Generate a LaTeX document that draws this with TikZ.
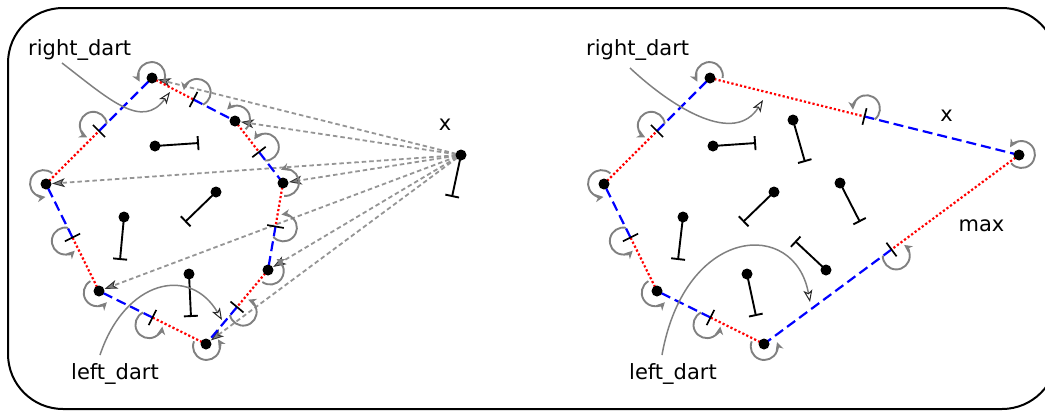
\documentclass[tikz,border=0pt]{standalone}
\usepackage{fontspec}
\setmainfont{DejaVu Sans}
\usetikzlibrary{calc,arrows.meta}

\definecolor{raygray}{HTML}{959595}
\definecolor{loopgray}{HTML}{808080}

\tikzset{
  vdot/.style={circle,fill=black,inner sep=0pt,minimum size=11pt},
  reddart/.style={red,line width=2.2pt,dash pattern=on 2.2pt off 2.2pt},
  bluedart/.style={blue,line width=2.2pt,dash pattern=on 10pt off 5pt},
  tickmark/.style={black,line width=1.7pt},
  loopline/.style={loopgray,line width=1.9pt,-{Stealth[length=8pt,width=8pt,inset=2.5pt]}},
  xray/.style={raygray,line width=1.8pt,dash pattern=on 4.5pt off 3pt,shorten <=5pt,shorten >=6pt,
    -{Stealth[length=13pt,width=9pt,inset=3.5pt,fill=loopgray,color=black!80,line width=0.9pt]}},
  dartline/.style={black,line width=1.9pt,-{Bar[width=14pt]}},
  lbl/.style={font=\fontsize{21pt}{25pt}\selectfont,inner sep=0pt},
  pointer/.style={loopgray,line width=1.5pt,-{Stealth[open,length=12pt,width=9pt,inset=3pt,color=black!85,line width=1pt]}},
}

% loop around a vertex: #1 vertex, #2 neighbour along the red dart, #3 neighbour along the blue dart
\newcommand\vertexloop[3]{%
  \draw[loopline] let \p1=($(#2)-(#1)$), \p2=($(#3)-(#1)$),
    \n1={atan2(\y1,\x1)}, \n2={atan2(\y2,\x2)},
    \n3={(\n2<\n1) ? (\n2+360) : \n2},
    \n4={(\n1+\n3)/2}
  in ($(#1)+({\n4}:2.5pt)+({\n1+4}:13.5pt)$) arc[start angle=\n1+4, end angle=\n3-18, radius=13.5pt];
}
% loop around the middle of an edge: #1 middle point, #2 end of the blue dart
\newcommand\tickloop[2]{%
  \draw[loopline] let \p1=($(#2)-(#1)$), \n1={atan2(\y1,\x1)}
  in ($(#1)+({\n1+90}:8pt)+({\n1-38}:13.5pt)$) arc[start angle=\n1-38, end angle=\n1+198, radius=13.5pt];
}
% an edge split in a red and a blue dart: #1 start, #2 end, #3 name of the middle point
\newcommand\splitedge[3]{%
  \coordinate (#3) at ($(#1)!0.5!(#2)$);
  \draw[reddart] (#1) -- (#3);
  \draw[bluedart] (#3) -- (#2);
  \draw[tickmark] ($(#3)!8.5pt!90:(#2)$) -- ($(#3)!8.5pt!-90:(#2)$);
  \tickloop{#3}{#2}
}

\begin{document}
\begin{tikzpicture}[x=1pt,y=-1pt]
\useasboundingbox (0,0) rectangle (1045,410);
\clip (0,0) rectangle (1045,410);
\draw[line width=2pt,rounded corners=55pt] (8,8) rectangle (1057,409);

%% ---------- left map ----------
\coordinate (A) at (152,78);
\coordinate (B) at (235,121);
\coordinate (C) at (283,183);
\coordinate (D) at (268,270);
\coordinate (E) at (206,344);
\coordinate (F) at (99,291);
\coordinate (G) at (46,184);
\coordinate (X) at (461,155);

\foreach \v in {A,B,C,D,E,F,G} \draw[xray] (X) -- (\v);

\splitedge{A}{B}{mAB}
\splitedge{B}{C}{mBC}
\splitedge{C}{D}{mCD}
\splitedge{D}{E}{mDE}
\splitedge{E}{F}{mEF}
\splitedge{F}{G}{mFG}
\splitedge{G}{A}{mGA}

\vertexloop{A}{B}{G}
\vertexloop{B}{C}{A}
\vertexloop{C}{D}{B}
\vertexloop{D}{E}{C}
\vertexloop{E}{F}{D}
\vertexloop{F}{G}{E}
\vertexloop{G}{A}{F}

\foreach \v in {A,B,C,D,E,F,G} \node[vdot] (dot\v) at (\v) {};

% free darts
\node[vdot] (p1) at (155,146) {}; \coordinate (p1e) at (199,143);
\node[vdot] (p2) at (216,192) {}; \coordinate (p2e) at (185,222);
\node[vdot] (p3) at (124,217) {}; \coordinate (p3e) at (120,260);
\node[vdot] (p4) at (189,274) {}; \coordinate (p4e) at (191,317);
\node[vdot] (px) at (X) {};       \coordinate (pxe) at (452,197);
\foreach \d in {p1,p2,p3,p4,px} \draw[dartline] (\d.center) -- (\d e);

\node[lbl] (xlabL) at (445,125) {x};
\node[lbl,anchor=base west] (rdL) at (28,55) {right\_dart};
\node[lbl,anchor=base west] (ldL) at (71,379) {left\_dart};
\coordinate (rdLtail) at (62,63);   \coordinate (rdLtip) at (170,92);
\coordinate (ldLtail) at (100,355); \coordinate (ldLtip) at (222,320);
\draw[pointer] (rdLtail) .. controls (110,100) and (142,130) .. (rdLtip);
\draw[pointer] (ldLtail) .. controls (125,280) and (190,265) .. (ldLtip);

%% ---------- right map ----------
\coordinate (A2) at (710,78);
\coordinate (X2) at (1019,155);
\coordinate (E2) at (764,344);
\coordinate (F2) at (657,291);
\coordinate (G2) at (604,184);

\splitedge{A2}{X2}{mAX2}
\splitedge{X2}{E2}{mXE2}
\splitedge{E2}{F2}{mEF2}
\splitedge{F2}{G2}{mFG2}
\splitedge{G2}{A2}{mGA2}

\vertexloop{A2}{X2}{G2}
\vertexloop{X2}{E2}{A2}
\vertexloop{E2}{F2}{X2}
\vertexloop{F2}{G2}{E2}
\vertexloop{G2}{A2}{F2}

\foreach \v in {A2,X2,E2,F2,G2} \node[vdot] (dot\v) at (\v) {};

\node[vdot] (q1) at (713,146) {}; \coordinate (q1e) at (756,143);
\node[vdot] (q2) at (793,120) {}; \coordinate (q2e) at (805,162);
\node[vdot] (q3) at (774,192) {}; \coordinate (q3e) at (743,222);
\node[vdot] (q4) at (840,183) {}; \coordinate (q4e) at (860,222);
\node[vdot] (q5) at (826,270) {}; \coordinate (q5e) at (795,241);
\node[vdot] (q6) at (683,217) {}; \coordinate (q6e) at (678,260);
\node[vdot] (q7) at (747,274) {}; \coordinate (q7e) at (756,316);
\foreach \d in {q1,q2,q3,q4,q5,q6,q7} \draw[dartline] (\d.center) -- (\d e);

\node[lbl] (xlabR) at (946.5,116) {x};
\node[lbl] (maxR) at (981.5,225.5) {max};
\node[lbl,anchor=base west] (rdR) at (586,55) {right\_dart};
\node[lbl,anchor=base west] (ldR) at (629,379) {left\_dart};
\coordinate (rdRtail) at (630,68);  \coordinate (rdRtip) at (763,100);
\coordinate (ldRtail) at (662,355); \coordinate (ldRtip) at (810,302);
\draw[pointer] (rdRtail) .. controls (675,110) and (735,145) .. (rdRtip);
\draw[pointer] (ldRtail) .. controls (685,225) and (795,218) .. (ldRtip);
\end{tikzpicture}
\end{document}
